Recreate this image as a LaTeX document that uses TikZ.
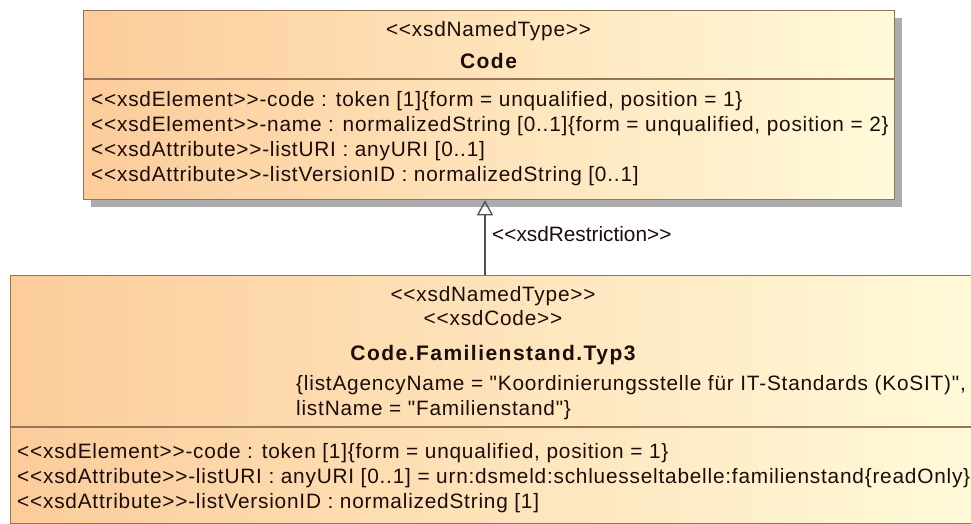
\documentclass[tikz,border=0pt]{standalone}
\usepackage{fontspec}
\setmainfont{Liberation Sans}
\newfontfamily\umlfont[LetterSpace=3.8,Ligatures=TeXOff]{Liberation Sans}
\newfontfamily\umlboldfont[LetterSpace=7,Ligatures=TeXOff]{Liberation Sans}
\newfontfamily\umllabelfont[Ligatures=TeXOff]{Liberation Sans}
\usetikzlibrary{arrows.meta,shadows}
\definecolor{peach}{RGB}{252,204,154}
\definecolor{cream}{RGB}{255,250,218}
\definecolor{umlborder}{RGB}{150,116,86}
\definecolor{umlshadow}{RGB}{172,172,172}
\definecolor{umltext}{RGB}{28,12,12}
\definecolor{linkgray}{RGB}{80,80,80}
\begin{document}
\begin{tikzpicture}[x=1pt,y=-1pt,
  umlbox/.style={draw=umlborder, line width=1.3pt, left color=peach, right color=cream,
    rectangle, inner sep=0pt, anchor=north west},
  boxshadow/.style={general shadow={shadow xshift=7pt, shadow yshift=-7pt, fill=umlshadow}},
  divider/.style={draw=umlborder, line width=1.3pt},
  txt/.style={font=\umlfont\fontsize{20.8}{24}\selectfont, text=umltext, inner sep=0pt},
  lbl/.style={font=\umllabelfont\fontsize{20.8}{24}\selectfont, text=umltext, inner sep=0pt},
  ttl/.style={font=\umlboldfont\bfseries\fontsize{21}{24}\selectfont, text=umltext, inner sep=0pt},
  restr/.style={draw=linkgray, line width=1.3pt, -{Triangle[open, length=15pt, width=16pt, line width=1.3pt]}}
]
\useasboundingbox (0,0) rectangle (971,524);

% --- Code box
\node[umlbox, boxshadow, minimum width=811pt, minimum height=189pt] (code) at (83,10) {};
\coordinate (d1) at (0,79);
\draw[divider] (code.west |- d1) -- (code.east |- d1);
\node[txt, anchor=base] (c1) at (488.5,37) {<<xsdNamedType>>};
\node[ttl, anchor=base] (c2) at (488.5,69) {Code};
\node[txt, anchor=base west] (ca1) at (91,106.5) {<<xsdElement>>-code : token [1]\{form = unqualified, position = 1\}};
\node[txt, anchor=base west] (ca2) at (91,131.5) {<<xsdElement>>-name : normalizedString [0..1]\{form = unqualified, position = 2\}};
\node[txt, anchor=base west] (ca3) at (91,156.5) {<<xsdAttribute>>-listURI : anyURI [0..1]};
\node[txt, anchor=base west] (ca4) at (91,181.5) {<<xsdAttribute>>-listVersionID : normalizedString [0..1]};

% --- Code.Familienstand.Typ3 box
\node[umlbox, minimum width=968pt, minimum height=248pt] (fam) at (10,275) {};
\coordinate (d2) at (0,427);
\draw[divider] (fam.west |- d2) -- (fam.east |- d2);
\node[txt, anchor=base] (f1) at (493,301) {<<xsdNamedType>>};
\node[txt, anchor=base] (f2) at (493,325) {<<xsdCode>>};
\node[ttl, anchor=base] (f3) at (493,360) {Code.Familienstand.Typ3};
\node[txt, anchor=base west] (f4) at (296,390) {\{listAgencyName = "Koordinierungsstelle für IT-Standards (KoSIT)",};
\node[txt, anchor=base west] (f5) at (296,415) {listName = "Familienstand"\}};
\node[txt, anchor=base west] (fa1) at (17,458) {<<xsdElement>>-code : token [1]\{form = unqualified, position = 1\}};
\node[txt, anchor=base west] (fa2) at (17,483) {<<xsdAttribute>>-listURI : anyURI [0..1] = urn:dsmeld:schluesseltabelle:familienstand\{readOnly\}};
\node[txt, anchor=base west] (fa3) at (17,508) {<<xsdAttribute>>-listVersionID : normalizedString [1]};

% --- restriction
\coordinate (ax) at (485,0);
\draw[restr] (fam.north -| ax) -- (code.south -| ax);
\node[lbl, anchor=base west] (rl) at (492,241) {<<xsdRestriction>>};
\end{tikzpicture}
\end{document}
